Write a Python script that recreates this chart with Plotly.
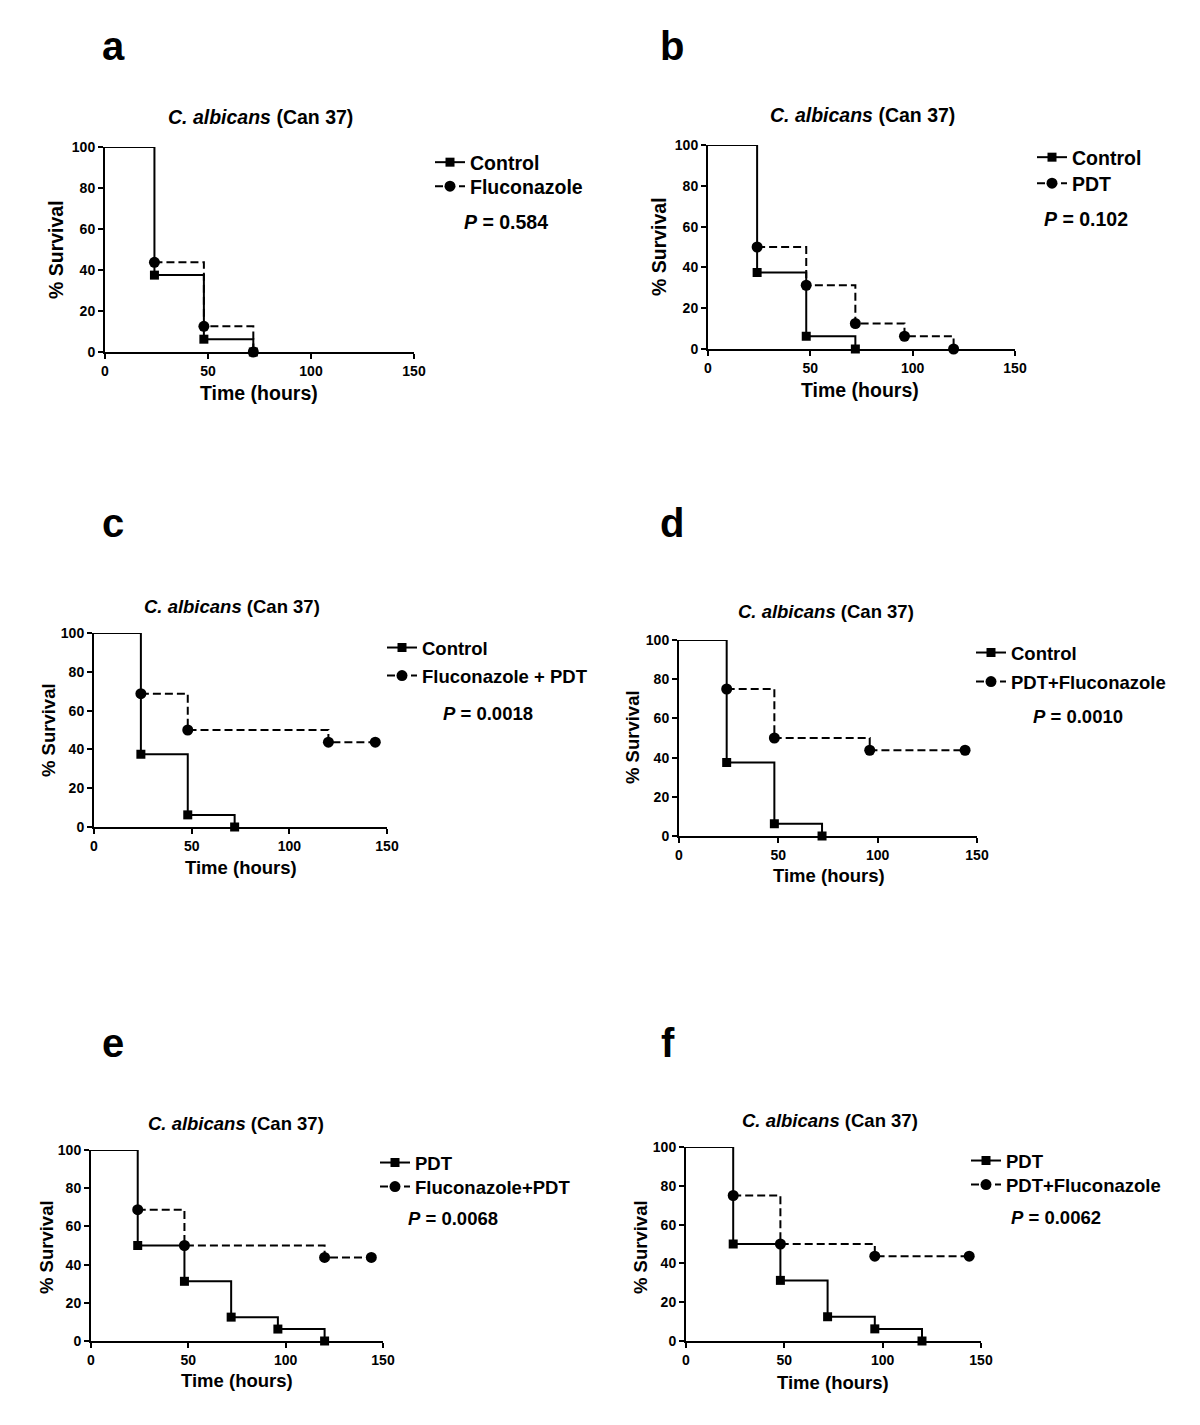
import plotly.graph_objects as go

W, H = 1200, 1425
FONT = "Liberation Sans, Arial, sans-serif"
PAGE_OFFSET = 8  # default body margin of the html page

# ---------------- data ----------------
time_control = [24, 48, 72]
surv_control = [37.5, 6.25, 0]

time_fluconazole = [24, 48, 72]
surv_fluconazole = [43.75, 12.5, 0]

time_pdt = [24, 48, 72, 96, 120]
surv_pdt = [50, 31.25, 12.5, 6.25, 0]

time_flu_pdt = [24, 48, 120, 144]
surv_flu_pdt = [68.75, 50, 43.75, 43.75]

time_pdt_flu = [24, 48, 96, 144]
surv_pdt_flu = [75, 50, 43.75, 43.75]

start_time = 0
start_surv = 100

x_ticks = [0, 50, 100, 150]
y_ticks = [0, 20, 40, 60, 80, 100]

panel_letters = ["a", "b", "c", "d", "e", "f"]
panel_title = "<b><i>C. albicans</i> (Can 37)</b>"
p_values = ["0.584", "0.102", "0.0018", "0.0010", "0.0068", "0.0062"]

# (solid series name, times, surv), (dashed series name, times, surv)
panels = [
    (("Control", time_control, surv_control), ("Fluconazole", time_fluconazole, surv_fluconazole)),
    (("Control", time_control, surv_control), ("PDT", time_pdt, surv_pdt)),
    (("Control", time_control, surv_control), ("Fluconazole + PDT", time_flu_pdt, surv_flu_pdt)),
    (("Control", time_control, surv_control), ("PDT+Fluconazole", time_pdt_flu, surv_pdt_flu)),
    (("PDT", time_pdt, surv_pdt), ("Fluconazole+PDT", time_flu_pdt, surv_flu_pdt)),
    (("PDT", time_pdt, surv_pdt), ("PDT+Fluconazole", time_pdt_flu, surv_pdt_flu)),
]

# ---------------- layout geometry (pixels, in the final picture) ----------------
# plot boxes: x0, x1, ytop, ybottom
boxes = [
    (105, 414, 147, 352),
    (708, 1015, 145, 349),
    (94, 387, 633, 827),
    (679, 977, 640, 836),
    (91, 383, 1150, 1341),
    (686, 981, 1147, 1341),
]
letter_pos = [(113, 46), (672, 46), (113, 523), (672, 523), (113, 1043), (668, 1043)]
title_pos = [(260, 117), (862, 115), (232, 606), (826, 611), (236, 1123), (830, 1120)]
ytitle_pos = [(56, 250), (659, 247), (48, 730), (632, 737), (46, 1247), (640, 1247)]
xtitle_pos = [(259, 393), (860, 390), (241, 867), (829, 875), (237, 1380), (833, 1382)]
# legend: icon left x, centre y of the first and second entry
legend_pos = [(431, 163, 187), (1033, 158, 184), (383, 649, 677), (972, 654, 683),
              (376, 1164, 1188), (967, 1162, 1186)]
p_pos = [(506, 222), (1086, 219), (488, 713), (1078, 716), (453, 1218), (1056, 1217)]
text_size = [19.5, 19.5, 18.5, 18.5, 18.5, 18.5]


def px(x):
    return (x - PAGE_OFFSET) / W


def py(y):
    return 1 - (y - PAGE_OFFSET) / H


fig = go.Figure()
annotations = []
layout_extra = {}

LW = 2
DASH = "8px,4px"
SQ, CI = 9, 11

leg_count = 0
for i, (solid, dashed) in enumerate(panels):
    n = i + 1
    xa = "x" if n == 1 else f"x{n}"
    ya = "y" if n == 1 else f"y{n}"
    fs = text_size[i]

    # dashed series first (its shared start segment is covered by the solid
    # curve, so it is drawn from the first event on), then solid on top
    name_d, t_d, s_d = dashed
    fig.add_trace(go.Scatter(
        x=t_d, y=s_d, mode="lines",
        line=dict(color="black", width=LW, dash=DASH, shape="hv"),
        xaxis=xa, yaxis=ya, showlegend=False, cliponaxis=False,
        hoverinfo="skip"))
    fig.add_trace(go.Scatter(
        x=t_d, y=s_d, mode="markers",
        marker=dict(symbol="circle", size=CI, color="black"),
        xaxis=xa, yaxis=ya, showlegend=False, cliponaxis=False,
        name=name_d))

    name_s, t_s, s_s = solid
    fig.add_trace(go.Scatter(
        x=[start_time] + t_s, y=[start_surv] + s_s, mode="lines",
        line=dict(color="black", width=LW, shape="hv"),
        xaxis=xa, yaxis=ya, showlegend=False, cliponaxis=False,
        hoverinfo="skip"))
    fig.add_trace(go.Scatter(
        x=t_s, y=s_s, mode="markers",
        marker=dict(symbol="square", size=SQ, color="black"),
        xaxis=xa, yaxis=ya, showlegend=False, cliponaxis=False,
        name=name_s))

    # legend entries, each in its own legend box for exact placement
    lx, ly1, ly2 = legend_pos[i]
    for name, dash, sym, msize, ly in [
        (name_s, "solid", "square", SQ, ly1),
        (name_d, DASH, "circle", CI, ly2),
    ]:
        leg_count += 1
        leg = "legend" if leg_count == 1 else f"legend{leg_count}"
        fig.add_trace(go.Scatter(
            x=[None], y=[None], mode="lines+markers", name=name,
            line=dict(color="black", width=LW, dash=dash),
            marker=dict(symbol=sym, size=msize, color="black"),
            xaxis=xa, yaxis=ya, legend=leg, showlegend=True))
        layout_extra[leg] = dict(
            x=px(lx - 1), y=py(ly - 20), xanchor="left", yanchor="top",
            bgcolor="rgba(0,0,0,0)", borderwidth=0,
            font=dict(family=FONT, size=fs, color="black", weight="bold"),
            itemwidth=30)

    x0, x1, yt, yb = boxes[i]
    axis_common = dict(
        showline=True, linecolor="black", linewidth=2, mirror=False,
        ticks="outside", ticklen=5, tickwidth=2, tickcolor="black",
        showgrid=False, zeroline=False, automargin=False,
        tickfont=dict(family=FONT, size=14, color="black", weight="bold"),
        fixedrange=True,
    )
    layout_extra[f"xaxis{'' if n == 1 else n}"] = dict(
        axis_common, domain=[px(x0), px(x1)], range=[0, 150],
        tickvals=x_ticks, anchor=ya)
    layout_extra[f"yaxis{'' if n == 1 else n}"] = dict(
        axis_common, domain=[py(yb), py(yt)], range=[0, 100],
        tickvals=y_ticks, anchor=xa)

    def ann(pos, text, size, angle=0):
        annotations.append(dict(
            x=px(pos[0]), y=py(pos[1]), xref="paper", yref="paper",
            xanchor="center", yanchor="middle", showarrow=False,
            text=text, textangle=angle,
            font=dict(family=FONT, size=size, color="black")))

    ann(letter_pos[i], f"<b>{panel_letters[i]}</b>", 40)
    ann(title_pos[i], panel_title, fs)
    ann(ytitle_pos[i], "<b>% Survival</b>", fs, -90)
    ann(xtitle_pos[i], "<b>Time (hours)</b>", fs)
    ann(p_pos[i], f"<b><i>P</i> = {p_values[i]}</b>", fs)

fig.update_layout(
    width=W, height=H,
    margin=dict(l=0, r=0, t=0, b=0, autoexpand=False),
    paper_bgcolor="white", plot_bgcolor="white",
    annotations=annotations,
    **layout_extra,
)

fig.write_html("out.html")
